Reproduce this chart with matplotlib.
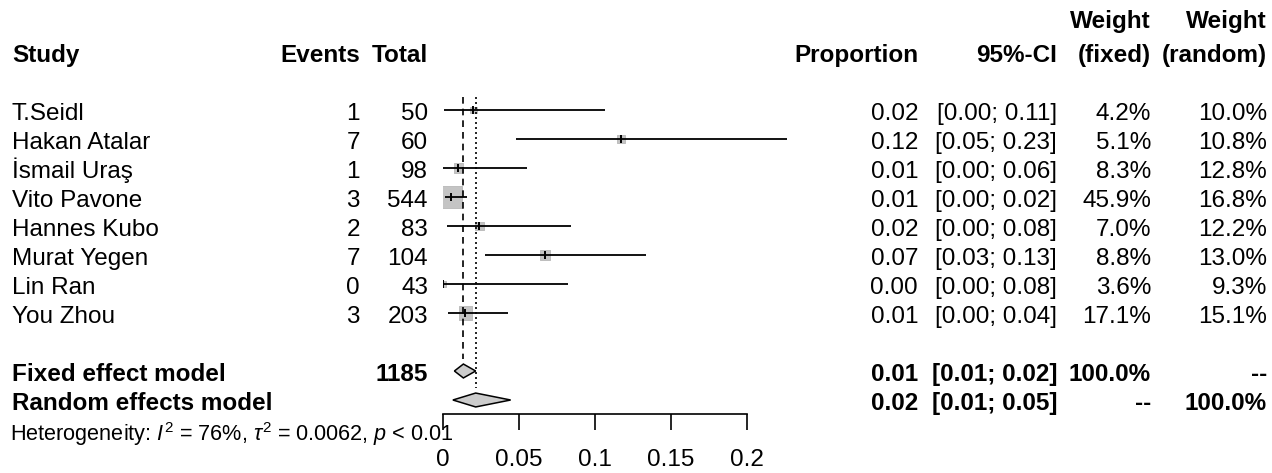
import matplotlib
matplotlib.use("Agg")
import matplotlib.pyplot as plt
import numpy as np
from matplotlib import transforms

plt.rcParams["font.family"] = ["Liberation Sans", "DejaVu Sans"]
plt.rcParams["mathtext.fontset"] = "custom"
plt.rcParams["mathtext.rm"] = "Liberation Sans"
plt.rcParams["mathtext.it"] = "Liberation Sans:italic"

# --- data ---
studies = ["T.Seidl", "Hakan Atalar", "İsmail Uraş", "Vito Pavone",
           "Hannes Kubo", "Murat Yegen", "Lin Ran", "You Zhou"]
events = [1, 7, 1, 3, 2, 7, 0, 3]
totals = [50, 60, 98, 544, 83, 104, 43, 203]
est = [0.020, 0.117, 0.010, 0.0055, 0.024, 0.067, 0.0, 0.0148]
ci_lo = [0.0005, 0.048, 0.0003, 0.0011, 0.0029, 0.0274, 0.0, 0.0031]
ci_hi = [0.1065, 0.226, 0.0555, 0.0160, 0.0843, 0.1338, 0.0822, 0.0426]
w_fixed = [4.2, 5.1, 8.3, 45.9, 7.0, 8.8, 3.6, 17.1]

prop_txt = ["0.02", "0.12", "0.01", "0.01", "0.02", "0.07", "0.00", "0.01"]
ci_txt = ["[0.00; 0.11]", "[0.05; 0.23]", "[0.00; 0.06]", "[0.00; 0.02]",
          "[0.00; 0.08]", "[0.03; 0.13]", "[0.00; 0.08]", "[0.00; 0.04]"]
wf_txt = ["4.2%", "5.1%", "8.3%", "45.9%", "7.0%", "8.8%", "3.6%", "17.1%"]
wr_txt = ["10.0%", "10.8%", "12.8%", "16.8%", "12.2%", "13.0%", "9.3%", "15.1%"]

total_n = 1185
fixed = (0.0075, 0.0134, 0.0215)    # lo, est, hi
random_ = (0.0065, 0.0215, 0.0445)
summary_rows = [
    ("Fixed effect model", "0.01", "[0.01; 0.02]", "100.0%", "--"),
    ("Random effects model", "0.02", "[0.01; 0.05]", "--", "100.0%"),
]
het_txt = (r"Heterogeneity: $I^2$ = 76%, $\tau^2$ = 0.0062, $p$ < 0.01")
xticks = [0, 0.05, 0.1, 0.15, 0.2]
xtick_labels = ["0", "0.05", "0.1", "0.15", "0.2"]

# --- layout (pixels) ---
W, H = 1272, 473
FS = 17.5
fig = plt.figure(figsize=(W / 100, H / 100), dpi=100)
bg = fig.add_axes([0, 0, 1, 1])
bg.set_xlim(0, W)
bg.set_ylim(H, 0)
bg.axis("off")

x0_px, px_per_unit = 443, 1520
row0_px, row_px = 110, 29
ytop, ybot = -0.6, 10.48
xmax = 0.25
ax = fig.add_axes([x0_px / W,
                   (H - (row0_px + ybot * row_px)) / H,
                   xmax * px_per_unit / W,
                   (ybot - ytop) * row_px / H])
ax.set_xlim(0, xmax)
ax.set_ylim(ybot, ytop)
ax.patch.set_alpha(0)
for s in ["top", "right", "left"]:
    ax.spines[s].set_visible(False)
ax.spines["bottom"].set_bounds(0, 0.2)
ax.spines["bottom"].set_linewidth(1.2)
ax.set_yticks([])
ax.set_xticks(xticks)
ax.set_xticklabels(xtick_labels, fontsize=FS)
ax.tick_params(axis="x", length=11.5, width=1.2, pad=14)

rows = np.arange(len(studies))
fixed_row, random_row = 9, 10

# reference lines
ax.vlines(fixed[1], -0.45, fixed_row - 0.42, colors="black", lw=1.2,
          linestyles=(0, (4, 3)), zorder=3)
ax.vlines(random_[1], -0.45, random_row - 0.42, colors="black", lw=1.2,
          linestyles=(0, (1.2, 1.8)), zorder=3)

# squares, CIs and point marks
side_pt = 22 * 0.72 * np.sqrt(np.array(w_fixed) / max(w_fixed))
ax.scatter(est, rows, marker="s", s=side_pt ** 2, color="#c4c4c4",
           edgecolors="#b8b8b8", linewidths=0.6, zorder=2)
ax.hlines(rows, ci_lo, ci_hi, colors="black", lw=1.3, zorder=4, clip_on=False)
ax.vlines(est, rows - 0.14, rows + 0.14, colors="black", lw=1.4, zorder=4)

# diamonds
for (lo, m, hi), r in [(fixed, fixed_row), (random_, random_row)]:
    ax.fill([lo, m, hi, m], [r, r - 0.24, r, r + 0.24], facecolor="#cccccc",
            edgecolor="black", lw=1.1, zorder=5)

# --- text columns ---
tr = transforms.blended_transform_factory(bg.transData, ax.transData)
BL = 0.34  # baseline offset from row centre (rows)


def put(x, row, s, ha="right", bold=False, size=FS):
    bg.text(x, row + BL, s, transform=tr, ha=ha, va="baseline",
            fontsize=size, fontweight="bold" if bold else "normal")


hdr = -2.0
put(12, hdr, "Study", ha="left", bold=True)
put(360, hdr, "Events", bold=True)
put(428, hdr, "Total", bold=True)
put(918, hdr, "Proportion", bold=True)
put(1057, hdr, "95%-CI", bold=True)
put(1151, hdr - 1.18, "Weight", bold=True)
put(1151, hdr, "(fixed)", bold=True)
put(1267, hdr - 1.18, "Weight", bold=True)
put(1267, hdr, "(random)", bold=True)

for i, r in enumerate(rows):
    put(12, r, studies[i], ha="left")
    put(360, r, str(events[i]))
    put(428, r, str(totals[i]))
    put(918, r, prop_txt[i])
    put(1057, r, ci_txt[i])
    put(1151, r, wf_txt[i])
    put(1267, r, wr_txt[i])

for r, (name, p, ci, wf, wr) in zip([fixed_row, random_row], summary_rows):
    put(12, r, name, ha="left", bold=True)
    put(918, r, p, bold=True)
    put(1057, r, ci, bold=True)
    put(1151, r, wf, bold=True)
    put(1267, r, wr, bold=True)
put(428, fixed_row, str(total_n), bold=True)

bg.text(10, 441, het_txt, ha="left", va="baseline", fontsize=15.6)

fig.savefig("out.png", dpi=100)
